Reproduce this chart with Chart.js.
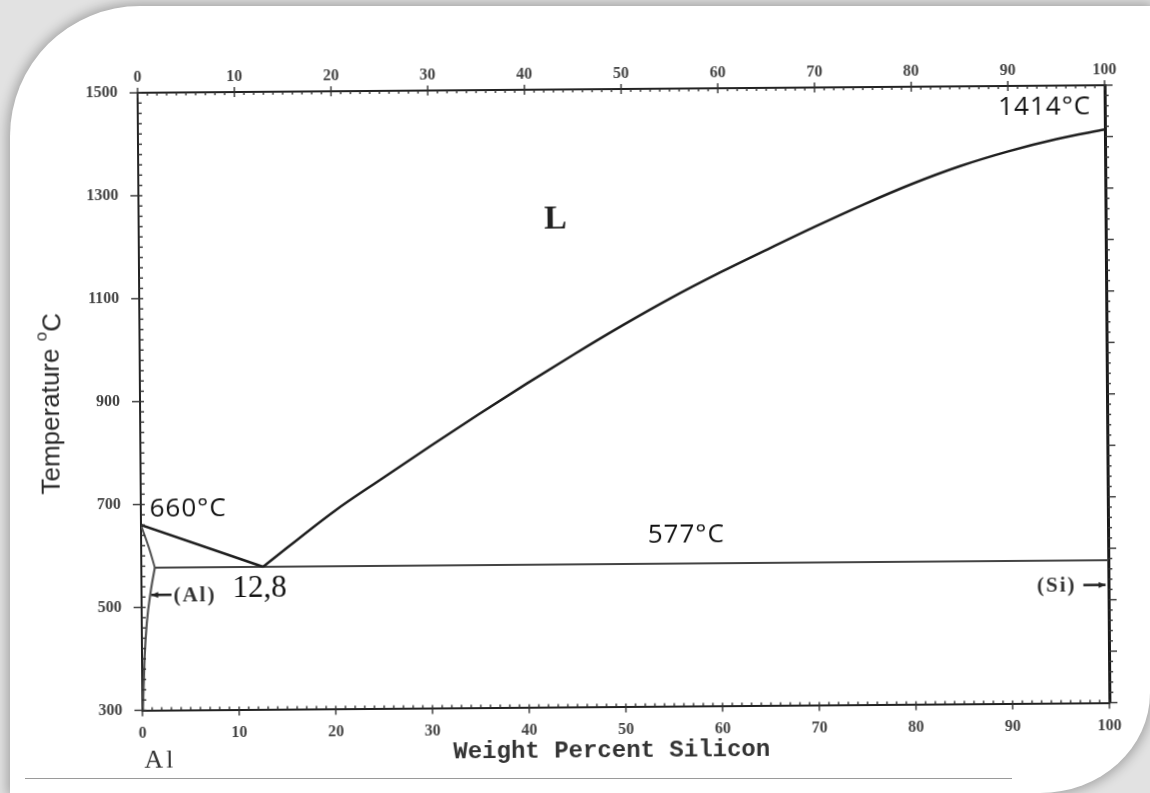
<!DOCTYPE html>
<html>
<head>
<meta charset="utf-8">
<script src="https://cdn.jsdelivr.net/npm/chart.js@4.4.0/dist/chart.umd.min.js"></script>
<style>
  html, body { margin: 0; padding: 0; width: 1150px; height: 793px; overflow: hidden; background: #e2e2e2; }
  #card { position: absolute; left: 10px; top: 6px; width: 1140px; height: 787px; background: #fff;
          border-top-left-radius: 130px; border-bottom-right-radius: 110px 100px;
          box-shadow: 0 0 12px 3px rgba(0,0,0,0.28); }
  #rule { position: absolute; left: 25px; top: 778px; width: 987px; height: 1px; background: #9a9a9a; }
  #wrap { position: absolute; left: 0; top: 0; width: 1150px; height: 793px;
          transform: rotate(-0.45deg); transform-origin: 623px 398px; }
</style>
</head>
<body>
<div id="card"></div>
<div id="rule"></div>
<div id="wrap"><canvas id="diagram"></canvas></div>
<script>
'use strict';
// axis ticks
var xTickValues = [0, 10, 20, 30, 40, 50, 60, 70, 80, 90, 100];
var yTickValues = [300, 500, 700, 900, 1100, 1300, 1500];

// liquidus, Al side (straight down to the eutectic)
var alLiquidusX = [0, 12.6];
var alLiquidusT = [660, 577];
// liquidus, Si side
var siLiquidusX = [12.6, 20, 25, 30, 35, 40, 45, 50, 55, 60, 65, 70, 75, 80, 85, 90, 95, 100];
var siLiquidusT = [577, 684, 747, 809, 870, 929, 986, 1041, 1093, 1141, 1186, 1230, 1272, 1311, 1345, 1373, 1396, 1414];
// eutectic line
var eutecticX = [1.4, 100];
var eutecticT = [577, 577];
// (Al) solidus and solvus
var alSolidusX = [0, 0.8, 1.4];
var alSolidusT = [660, 616, 577];
var alSolvusX = [1.4, 0.97, 0.52, 0.27, 0.05];
var alSolvusT = [577, 533, 469, 403, 300];

// text notes, anchored in data units (wt% Si, deg C)
var noteLabels = ['L', '1414°C', '660°C', '577°C', '12,8', '(Al)', '(Si)', 'Al'];
var noteX = [43.1, 98.6, 0.9, 52.4, 9.4, 3.3, 96.7, 1.8];
var noteT = [1246, 1458, 691, 633, 534, 521, 527, 202];
// arrows for the solid solutions [fromX, toX, T]
var alArrow = [3.1, 1.0, 524];
var siArrow = [97.4, 99.7, 529];

var xTitle = 'Weight Percent Silicon';
var xTitleAt = [48.5, 213];
var yTitle = 'Temperature ';
var yTitleAt = [-9.1, 897];

function toPoints(xs, ts) {
  var pts = [];
  for (var i = 0; i < xs.length; i++) {
    pts.push({x: xs[i], y: ts[i]});
  }
  return pts;
}

var noteFonts = [
  'bold 34px "Liberation Serif"',
  '26px "Open Sans"',
  '26px "Open Sans"',
  '26px "Open Sans"',
  '31px "Liberation Serif"',
  'bold 21px "Liberation Serif"',
  'bold 21px "Liberation Serif"',
  '26px "Liberation Serif"'
];
var noteSpacing = ['0px', '1px', '1px', '1px', '0px', '2px', '2px', '3px'];
var noteAlign = ['center', 'right', 'left', 'left', 'left', 'left', 'right', 'center'];
var noteColors = ['#222', '#111', '#111', '#111', '#111', '#333', '#333', '#333'];

var extras = {
  id: 'extras',
  afterDraw: function (chart) {
    var ctx = chart.ctx;
    var sx = chart.scales.x;
    var sy = chart.scales.y;
    var a = chart.chartArea;
    ctx.save();

    function line(x1, y1, x2, y2) {
      ctx.beginPath();
      ctx.moveTo(x1, y1);
      ctx.lineTo(x2, y2);
      ctx.stroke();
    }

    // tick marks
    ctx.strokeStyle = '#333';
    ctx.lineWidth = 1.4;
    for (var v = 0; v <= 100; v += 1) {
      var px = sx.getPixelForValue(v);
      var major = v % 10 === 0;
      line(px, a.top - (major ? 5 : 0), px, a.top + (major ? 5 : 3));
      line(px, a.bottom - 3, px, a.bottom + (major ? 6 : 0));
    }
    for (var t = 300; t <= 1500; t += 20) {
      var py = sy.getPixelForValue(t);
      var majorT = (t - 300) % 200 === 0;
      line(a.left - (majorT ? 8 : 0), py, a.left + 4, py);
      line(a.right, py, a.right + (t % 100 === 0 ? 8 : 4), py);
    }

    // arrows
    ctx.strokeStyle = '#222';
    ctx.fillStyle = '#222';
    ctx.lineWidth = 2.5;
    [alArrow, siArrow].forEach(function (ar) {
      var x1 = sx.getPixelForValue(ar[0]);
      var x2 = sx.getPixelForValue(ar[1]);
      var yy = sy.getPixelForValue(ar[2]);
      line(x1, yy, x2, yy);
      var dir = x2 > x1 ? 1 : -1;
      ctx.beginPath();
      ctx.moveTo(x2, yy);
      ctx.lineTo(x2 - dir * 7, yy - 3);
      ctx.lineTo(x2 - dir * 7, yy + 3);
      ctx.closePath();
      ctx.fill();
    });

    // notes
    ctx.textBaseline = 'middle';
    for (var i = 0; i < noteLabels.length; i++) {
      ctx.font = noteFonts[i];
      ctx.letterSpacing = noteSpacing[i];
      ctx.textAlign = noteAlign[i];
      ctx.fillStyle = noteColors[i];
      ctx.fillText(noteLabels[i], sx.getPixelForValue(noteX[i]), sy.getPixelForValue(noteT[i]));
    }
    ctx.letterSpacing = '0px';

    // x title
    ctx.font = 'bold 24px "Liberation Mono"';
    ctx.fillStyle = '#333';
    ctx.textAlign = 'center';
    ctx.fillText(xTitle, sx.getPixelForValue(xTitleAt[0]), sy.getPixelForValue(xTitleAt[1]));

    // y title, rotated, with superscript o
    var tx = sx.getPixelForValue(yTitleAt[0]);
    var ty = sy.getPixelForValue(yTitleAt[1]);
    ctx.translate(tx, ty);
    ctx.rotate(-Math.PI / 2);
    ctx.fillStyle = '#2a2a2a';
    ctx.textAlign = 'left';
    var mainFont = '26px "Liberation Sans"';
    var supFont = '17px "Liberation Sans"';
    ctx.font = mainFont;
    var w1 = ctx.measureText(yTitle).width;
    var wC = ctx.measureText('C').width;
    ctx.font = supFont;
    var wo = ctx.measureText('o').width;
    var start = -(w1 + wo + wC) / 2;
    ctx.font = mainFont;
    ctx.fillText(yTitle, start, 0);
    ctx.font = supFont;
    ctx.fillText('o', start + w1, -10);
    ctx.font = mainFont;
    ctx.fillText('C', start + w1 + wo, 2);
    ctx.restore();
  }
};

var tickFont = {family: 'Liberation Serif', weight: 'bold', size: 16};
var tickColor = '#444';
var borderDark = {display: true, color: '#222', width: 2};
var noGrid = {display: false, drawTicks: false};

function fixTicks(values) {
  return function (scale) {
    scale.ticks = values.map(function (v) { return {value: v}; });
  };
}
function plainLabel(value) {
  return String(value);
}

var ctx = document.getElementById('diagram').getContext('2d');
var lineStyle = {showLine: true, pointRadius: 0, fill: false, xAxisID: 'x', yAxisID: 'y'};

var chart = new Chart(ctx, {
  type: 'scatter',
  data: {
    datasets: [
      Object.assign({label: 'Liquidus (Al)', data: toPoints(alLiquidusX, alLiquidusT), borderColor: '#1e1e1e', borderWidth: 2.5}, lineStyle),
      Object.assign({label: 'Liquidus (Si)', data: toPoints(siLiquidusX, siLiquidusT), borderColor: '#1e1e1e', borderWidth: 2.5, cubicInterpolationMode: 'monotone'}, lineStyle),
      Object.assign({label: 'Eutectic', data: toPoints(eutecticX, eutecticT), borderColor: '#444', borderWidth: 2}, lineStyle),
      Object.assign({label: 'Solidus (Al)', data: toPoints(alSolidusX, alSolidusT), borderColor: '#555', borderWidth: 2, tension: 0.4}, lineStyle),
      Object.assign({label: 'Solvus (Al)', data: toPoints(alSolvusX, alSolvusT), borderColor: '#555', borderWidth: 2.2, cubicInterpolationMode: 'monotone'}, lineStyle)
    ]
  },
  options: {
    responsive: true,
    maintainAspectRatio: false,
    animation: false,
    layout: {padding: 0},
    plugins: {legend: {display: false}, tooltip: {enabled: false}},
    scales: {
      x: {
        type: 'linear', position: 'bottom', min: 0, max: 100,
        afterBuildTicks: fixTicks(xTickValues),
        ticks: {font: tickFont, color: tickColor, padding: 14, maxRotation: 0, autoSkip: false, callback: plainLabel},
        grid: noGrid, border: borderDark,
        afterFit: function (s) { s.height = 86.5; }
      },
      x2: {
        type: 'linear', position: 'top', min: 0, max: 100,
        afterBuildTicks: fixTicks(xTickValues),
        ticks: {font: tickFont, color: tickColor, padding: 6, maxRotation: 0, autoSkip: false, callback: plainLabel},
        grid: noGrid, border: borderDark,
        afterFit: function (s) { s.height = 89; }
      },
      y: {
        type: 'linear', position: 'left', min: 300, max: 1500,
        afterBuildTicks: fixTicks(yTickValues),
        ticks: {font: tickFont, color: tickColor, padding: 20, autoSkip: false, callback: plainLabel},
        grid: noGrid, border: borderDark,
        afterFit: function (s) { s.width = 140; }
      },
      y2: {
        type: 'linear', position: 'right', min: 300, max: 1500,
        ticks: {display: false},
        grid: noGrid, border: {display: true, color: '#1a1a1a', width: 3},
        afterFit: function (s) { s.width = 43; }
      }
    }
  },
  plugins: [extras]
});
</script>
</body>
</html>
